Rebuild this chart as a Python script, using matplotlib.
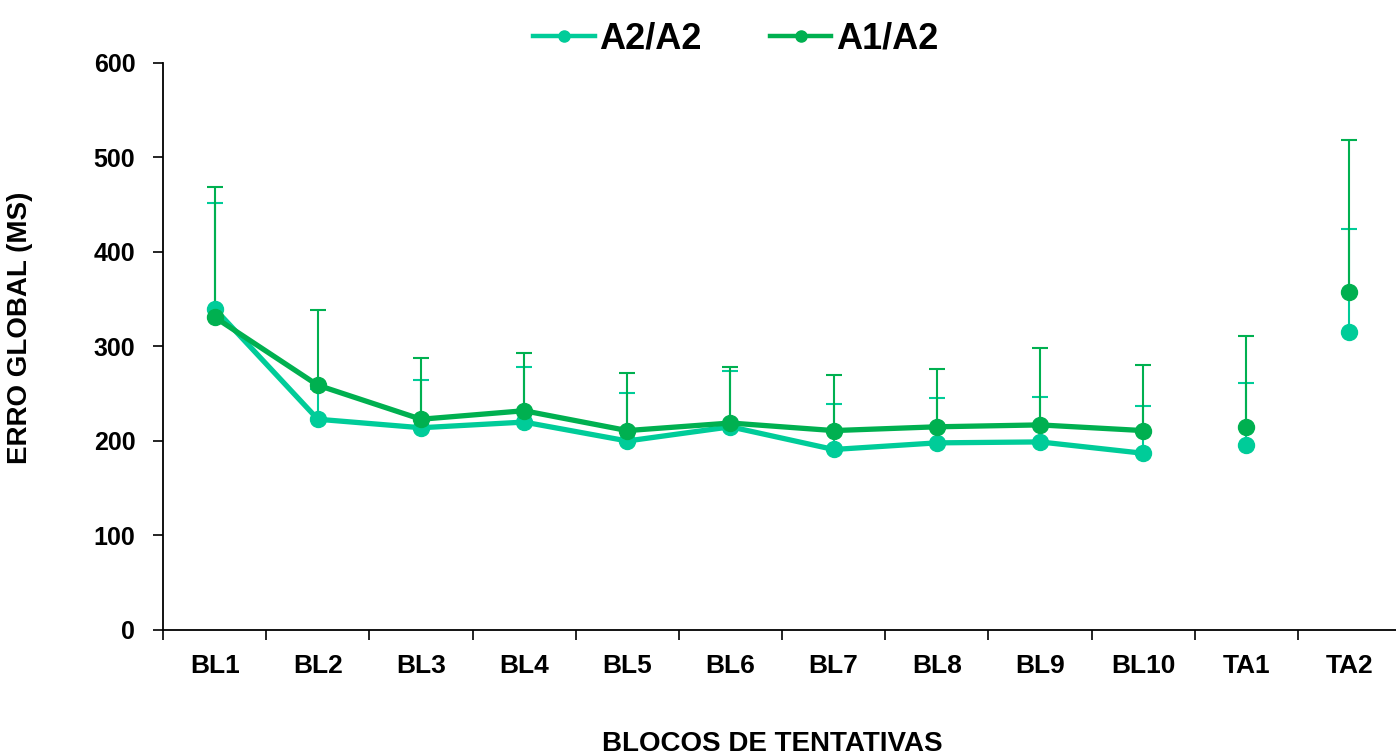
import matplotlib
matplotlib.use("Agg")
import matplotlib.pyplot as plt
from matplotlib.lines import Line2D
import numpy as np

plt.rcParams['font.family'] = ['Liberation Sans', 'DejaVu Sans']
plt.rcParams['font.weight'] = 'bold'

blocks = ["BL1", "BL2", "BL3", "BL4", "BL5", "BL6", "BL7", "BL8", "BL9", "BL10", "TA1", "TA2"]

a2a2_mean = [340, 223, 214, 220, 200, 215, 191, 198, 199, 187, 196, 315]
a2a2_sd = [112, 32, 50, 58, 51, 59, 48, 47, 48, 50, 65, 109]
a1a2_mean = [331, 259, 223, 232, 211, 219, 211, 215, 217, 211, 215, 358]
a1a2_sd = [138, 80, 65, 61, 61, 59, 59, 61, 81, 69, 96, 160]

n_bl = 10  # lines only join the BL blocks
c_a2a2 = "#00CC99"
c_a1a2 = "#00B050"

fig = plt.figure(figsize=(13.96, 7.56), dpi=100)
ax = fig.add_axes([0.1168, 0.1667, 0.8868, 0.75])

x = np.arange(len(blocks))
series = [(a2a2_mean, a2a2_sd, c_a2a2, "A2/A2"), (a1a2_mean, a1a2_sd, c_a1a2, "A1/A2")]

for mean, sd, col, name in series:
    mean = np.array(mean, dtype=float)
    sd = np.array(sd, dtype=float)
    ax.errorbar(x, mean, yerr=[np.zeros_like(sd), sd], fmt='none',
                ecolor=col, elinewidth=1.5, capsize=6, capthick=1.5, zorder=2)

for mean, sd, col, name in series:
    mean = np.array(mean, dtype=float)
    ax.plot(x[:n_bl], mean[:n_bl], color=col, lw=3.8, marker='o', ms=11.5, zorder=3)
    ax.plot(x[n_bl:], mean[n_bl:], color=col, lw=0, marker='o', ms=11.5, zorder=3)

ax.set_xlim(-0.5, len(blocks) - 0.5)
ax.set_ylim(0, 600)
ax.set_yticks(range(0, 601, 100))
ax.set_xticks(np.arange(-0.5, len(blocks) - 0.5, 1.0))
ax.set_xticklabels([])
ax.set_xticks(x, minor=True)
ax.set_xticklabels(blocks, minor=True)
ax.tick_params(axis='x', which='major', direction='out', length=7, width=1.2, color='black')
ax.tick_params(axis='x', which='minor', length=0, pad=17, labelsize=19)
ax.tick_params(axis='y', direction='out', length=7, width=1.2, pad=13, labelsize=18)

for s in ['top', 'right']:
    ax.spines[s].set_visible(False)
for s in ['left', 'bottom']:
    ax.spines[s].set_linewidth(1.3)
    ax.spines[s].set_color('black')

ax.set_ylabel("ERRO GLOBAL (MS)", fontsize=20, fontweight='bold')
ax.yaxis.set_label_coords(-0.105, 0.533)
ax.set_xlabel("BLOCOS DE TENTATIVAS", fontsize=20, fontweight='bold')
ax.xaxis.set_label_coords(0.492, -0.178)

handles = [Line2D([], [], color=c, lw=3.2, marker='o', ms=8) for c in (c_a2a2, c_a1a2)]
fig.legend(handles, ["A2/A2", "A1/A2"], loc='upper center', bbox_to_anchor=(0.527, 1.015),
           ncol=2, frameon=False, prop={'size': 26, 'weight': 'bold'},
           handlelength=1.7, handletextpad=0.12, columnspacing=1.9)

fig.savefig("out.png", dpi=100)
